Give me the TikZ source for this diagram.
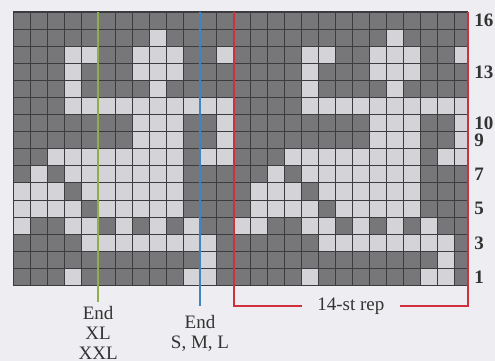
\documentclass[tikz,border=0pt]{standalone}
\usepackage{fontspec}
\setmainfont{Liberation Serif}
\definecolor{paper}{HTML}{EEEDF1}
\definecolor{darkst}{HTML}{777779}
\definecolor{lightst}{HTML}{D3D3D8}
\definecolor{gridc}{HTML}{3C3C3E}
\definecolor{xlgreen}{HTML}{8CB04C}
\definecolor{smlblue}{HTML}{3E85C6}
\definecolor{repred}{HTML}{D0303E}
\definecolor{ink}{HTML}{333333}
\tikzstyle{gridline} = [gridc, line width=0.5pt]
\tikzstyle{sizeline} = [line width=1pt]
\tikzstyle{sizelabel} = [align=center, inner sep=2pt, text=ink, font=\fontsize{9.5}{9.8}\selectfont]
\tikzstyle{replabel} = [inner xsep=7.5pt, inner ysep=0pt, text=ink, font=\fontsize{9.5}{10}\selectfont]
\tikzstyle{rownum} = [anchor=west, inner sep=0pt, text=ink, font=\fontsize{9.5}{10}\selectfont\bfseries]

\begin{document}
\begin{tikzpicture}[x=8.485pt, y=8.55pt]

\useasboundingbox (-0.784,-4.409) rectangle (28.385,16.70);
\fill[paper] (-0.784,-4.409) rectangle (28.385,16.70);

\begin{scope}
\clip (0,0) rectangle (26.78,16);
\fill[darkst] (0,0) rectangle (27,16);
\foreach \row/\lights in {1/{5,12,13}, 2/{13}, 3/{6,7,8,9,10,11,12,13},
    4/{1,2,5,6,8,10,12}, 5/{2,3,4,5,7,8,9,10,11}, 6/{2,3,4,6,7,8,9,10,11},
    7/{3,5,6,7,8,9,10,11}, 8/{4,5,6,7,8,9,10,11,13,14}, 9/{9,10,11,14},
    10/{9,10,11,14}, 11/{5,6,7,8,9,10,11,12,13,14}, 12/{5,10},
    13/{5,9,10,11}, 14/{5,6,9,10,11,14}, 15/{10}}
  \foreach \stitch in \lights {
    \fill[lightst] (\stitch+12,\row-1) rectangle (\stitch+13,\row);
    \ifnum\stitch>1 \fill[lightst] (\stitch-2,\row-1) rectangle (\stitch-1,\row); \fi
  };
\foreach \c in {1,...,26}
  \draw[gridline] (\c,0) -- (\c,16);
\foreach \r in {1,...,15}
  \draw[gridline] (0,\r) -- (26.78,\r);
\end{scope}
\draw[gridc, line width=0.6pt] (0,0) rectangle (26.78,16);

\foreach \n in {1,3,5,7,9,10,13,16}
  \node[rownum] (row\n) at (27.15,\n-0.5) {\n};

\coordinate (xltop) at (5,16);
\coordinate (smltop) at (11,16);
\coordinate (repleft) at (13,16);
\coordinate (repright) at (26.78,16);

\node[sizelabel, anchor=north] (endXL) at (5,-0.98) {End\\XL\\XXL};
\node[sizelabel, anchor=north] (endSML) at (11,-1.5) {End\\S, M, L};
\node[replabel] (rep) at (19.89,-1.205) {14-st rep};

\draw[sizeline, xlgreen] (xltop) -- (endXL);
\draw[sizeline, smlblue, shorten >=2.5pt] (smltop) -- (endSML);
\draw[sizeline, repred] (repleft) |- (rep.west);
\draw[sizeline, repred] (rep.east) -| (repright);

\end{tikzpicture}
\end{document}
